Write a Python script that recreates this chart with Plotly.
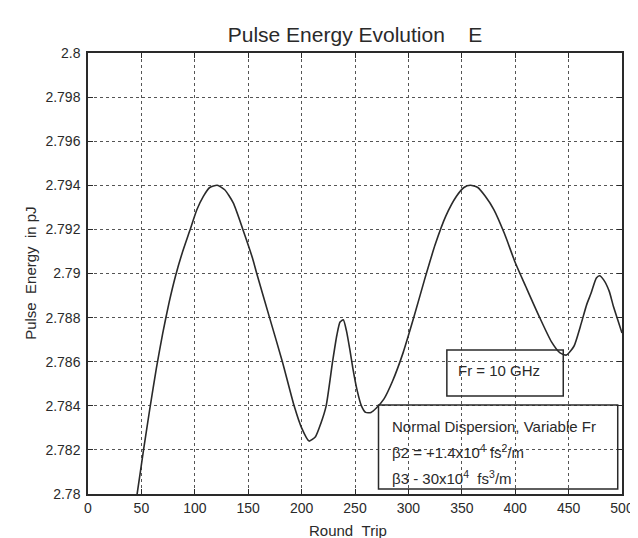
import plotly.graph_objects as go

# Data
round_trip = [44, 46, 52, 58, 64, 70, 76, 82, 88, 95, 102, 108, 114, 121, 128, 136, 145, 154, 158,
              170, 182, 193, 200, 207, 213, 218, 223, 229, 233, 236, 239, 242, 245, 248, 252, 256,
              260, 265, 270, 277, 285, 295, 305, 315, 325, 335, 345, 352, 358, 365, 372, 380, 390,
              400, 410, 422, 434, 442, 448, 455, 461, 467, 471, 476, 479, 483, 488, 492, 496, 500]
pulse_energy = [2.7794, 2.7800, 2.7820, 2.7839, 2.7857, 2.7873, 2.7887, 2.7899, 2.7909, 2.7919,
                2.7929, 2.7935, 2.7939, 2.7940, 2.7938, 2.7932, 2.7920, 2.7907, 2.7900,
                2.7880, 2.7860, 2.7840, 2.7830, 2.7824, 2.7826, 2.7832, 2.7840, 2.7860, 2.7872,
                2.7878, 2.7879, 2.7874, 2.7866, 2.7857, 2.7847, 2.7840,
                2.7837, 2.7837, 2.7839, 2.7843, 2.7851, 2.7864, 2.7880, 2.7897, 2.7913, 2.7926,
                2.7935, 2.7939, 2.7940, 2.7939, 2.7935, 2.7929, 2.7918,
                2.7905, 2.7894, 2.7881, 2.7869, 2.7864, 2.7863, 2.7867, 2.7876, 2.7886, 2.7891,
                2.7898, 2.7899, 2.7897, 2.7892, 2.7885, 2.7879, 2.7873]

x_ticks = [0, 50, 100, 150, 200, 250, 300, 350, 400, 450, 500]
x_tick_labels = ["0", "50", "100", "150", "200", "250", "300", "350", "400", "450", "500"]
y_ticks = [2.78, 2.782, 2.784, 2.786, 2.788, 2.79, 2.792, 2.794, 2.796, 2.798, 2.8]
y_tick_labels = ["2.78", "2.782", "2.784", "2.786", "2.788", "2.79", "2.792", "2.794",
                 "2.796", "2.798", "2.8"]

NB = "\u00a0"
title_text = "Pulse Energy Evolution" + NB * 4 + "E"
x_title = "Round" + NB * 2 + "Trip"
y_title = "Pulse" + NB * 2 + "Energy" + NB * 2 + "in pJ"
fr_label = "Fr = 10 GHz"
info_lines = ["Normal Dispersion, Variable Fr",
              "β2 = +1.4x10<sup>4</sup> fs<sup>2</sup>/m",
              "β3 - 30x10<sup>4</sup>" + NB * 2 + "fs<sup>3</sup>/m"]

FONT = "Arial, Liberation Sans, sans-serif"
INK = "#2a2a2a"

fig = go.Figure()
fig.add_trace(go.Scatter(x=round_trip, y=pulse_energy, mode="lines",
                         line=dict(color=INK, width=1.6, shape="spline", smoothing=0.6),
                         showlegend=False, hoverinfo="skip"))

axis_common = dict(showline=True, linecolor=INK, linewidth=1.5, mirror="allticks",
                   ticks="inside", ticklen=5, tickcolor=INK, tickwidth=1.2,
                   showgrid=True, gridcolor="#555555", griddash="dot", gridwidth=1,
                   zeroline=False, tickfont=dict(family=FONT, size=14, color=INK))

fig.update_xaxes(range=[0, 500], tickvals=x_ticks, ticktext=x_tick_labels, **axis_common)
fig.update_yaxes(range=[2.78, 2.8], tickvals=y_ticks, ticktext=y_tick_labels,
                 ticklabelstandoff=3, **axis_common)

# boxes
fig.add_shape(type="rect", xref="x", yref="y", x0=336, x1=445, y0=2.78444, y1=2.78653,
              line=dict(color=INK, width=1.5))
fig.add_shape(type="rect", xref="x", yref="y", x0=272, x1=496, y0=2.78023, y1=2.78404,
              line=dict(color=INK, width=1.5))

fig.add_annotation(x=385, y=2.78558, xref="x", yref="y", text=fr_label, showarrow=False,
                   xanchor="center", yanchor="middle",
                   font=dict(family=FONT, size=15, color=INK))
info_y = [2.78308, 2.78195, 2.78073]
for txt, yy in zip(info_lines, info_y):
    fig.add_annotation(x=283, y=yy, xref="x", yref="y", text=txt, showarrow=False,
                       xanchor="left", yanchor="middle",
                       font=dict(family=FONT, size=15, color=INK))

fig.add_annotation(x=0.487, y=-0.082, xref="paper", yref="paper", text=x_title,
                   showarrow=False, xanchor="center", yanchor="middle",
                   font=dict(family=FONT, size=15, color=INK))
fig.add_annotation(x=-0.108, y=0.5, xref="paper", yref="paper", text=y_title,
                   showarrow=False, textangle=-90, xanchor="center", yanchor="middle",
                   font=dict(family=FONT, size=15, color=INK))

fig.update_layout(
    width=638, height=538,
    margin=dict(l=80, r=13, t=45, b=52),
    paper_bgcolor="white", plot_bgcolor="white",
    title=dict(text=title_text, x=0.5, xref="paper", xanchor="center",
               y=1 - 27 / 538, yref="container", yanchor="middle",
               font=dict(family=FONT, size=21, color=INK)),
)

fig.write_html("out.html")
